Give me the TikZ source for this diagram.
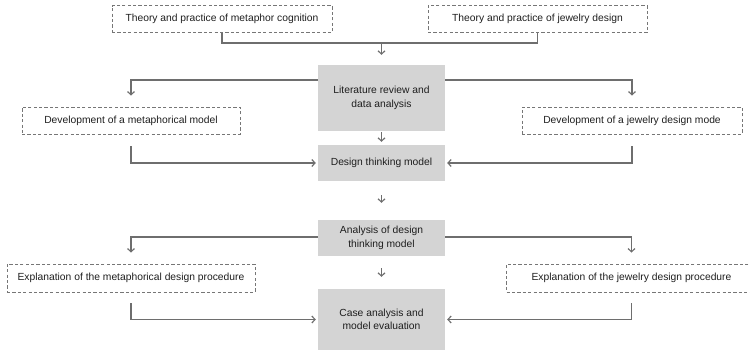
\documentclass[tikz,border=0pt]{standalone}
\usepackage{fontspec}
\setmainfont{Liberation Sans}
\usetikzlibrary{arrows.meta}
\definecolor{linegray}{HTML}{6E6E6E}
\definecolor{boxedge}{HTML}{767676}
\definecolor{fillgray}{HTML}{D4D4D4}
\definecolor{txt}{HTML}{1E1E1E}
\begin{document}
\begin{tikzpicture}[x=1pt,y=-1pt,
  dbox/.style={draw=boxedge, dash pattern=on 3.2pt off 2.2pt, line width=0.95pt,
    minimum height=27pt, inner sep=0pt, text=txt,
    font=\fontsize{10.3}{12}\selectfont},
  gbox/.style={fill=fillgray, minimum width=127pt, inner sep=0pt, align=center,
    text=txt, font=\fontsize{10.3}{13.5}\selectfont},
  conn/.style={draw=linegray, line width=1.15pt},
  arr/.style={conn, -{Straight Barb[length=3.2pt,width=7pt]}}]
\useasboundingbox (0,0) rectangle (750,351);

% top sources
\node[dbox, minimum width=220pt] (t1) at (222,19) {Theory and practice of metaphor cognition};
\node[dbox, minimum width=219pt] (t2) at (537.5,19) {Theory and practice of jewelry design};

% central column
\node[gbox, minimum height=66pt] (lit) at (381.5,98) {Literature review and\\data analysis};
\node[gbox, minimum height=36pt] (dtm) at (381.5,163) {Design thinking model};
\node[gbox, minimum height=36pt] (ana) at (381.5,238) {Analysis of design\\thinking model};
\node[gbox, minimum height=61pt] (case) at (381.5,319.5) {Case analysis and\\model evaluation};

% side branches
\node[dbox, minimum width=218pt] (dev1) at (131,120.5) {Development of a metaphorical model};
\node[dbox, minimum width=220pt] (dev2) at (632,120.5) {Development of a jewelry design mode};
\node[dbox, minimum width=248pt, minimum height=28pt] (exp1) at (131,278) {Explanation of the metaphorical design procedure};
\node[dbox, minimum width=250pt, minimum height=28pt] (exp2) at (631.5,278) {Explanation of the jewelry design procedure};

% joining the two sources
\coordinate (topbar) at (381.5,43);
\draw[conn] (t1.south) |- (topbar) -| (t2.south);
\draw[arr, shorten >=10pt] (topbar) -- (lit.north);

% literature review to the model developments
\draw[arr, shorten >=11pt] ([yshift=18pt]lit.west) -| (dev1.north);
\draw[arr, shorten >=11pt] ([yshift=18pt]lit.east) -| (dev2.north);
\draw[arr, shorten <=12pt, shorten >=2pt] (dev1.south) |- (dtm.west);
\draw[arr, shorten <=12pt, shorten >=2pt] (dev2.south) |- (dtm.east);

% central flow
\draw[arr, shorten <=1pt, shorten >=3pt] (lit.south) -- (dtm.north);
\draw[arr, shorten <=14pt, shorten >=17pt] (dtm.south) -- (ana.north);
\draw[arr, shorten <=12pt, shorten >=12pt] (ana.south) -- (case.north);

% analysis to the procedure explanations
\draw[arr, shorten >=11pt] ([yshift=1pt]ana.west) -| (exp1.north);
\draw[arr, shorten >=11pt] ([yshift=1pt]ana.east) -| (exp2.north);
\draw[arr, shorten <=11pt, shorten >=2pt] (exp1.south) |- (case.west);
\draw[arr, shorten <=11pt, shorten >=2pt] (exp2.south) |- (case.east);
\end{tikzpicture}
\end{document}
